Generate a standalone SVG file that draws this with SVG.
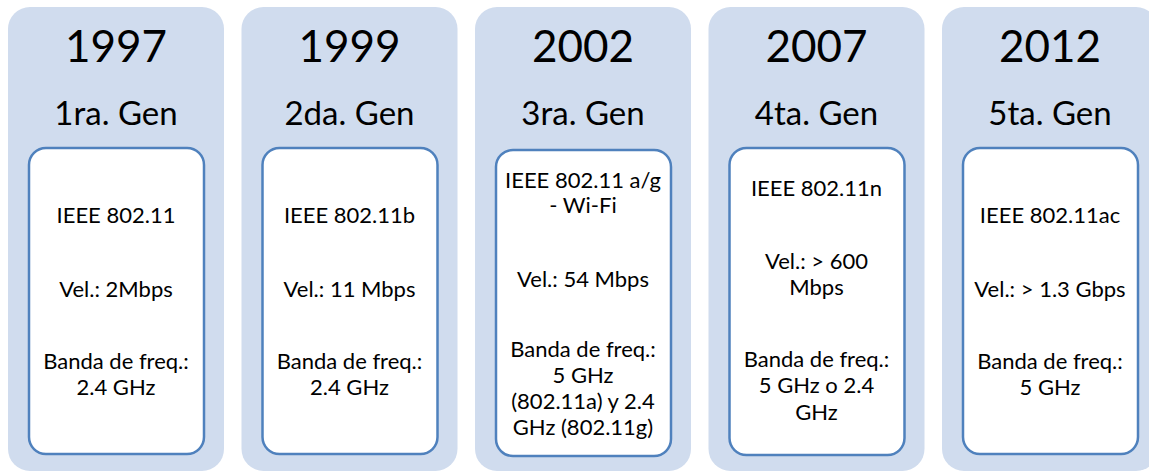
<svg xmlns="http://www.w3.org/2000/svg" width="1149" height="472" viewBox="0 0 1149 472">
  <style>
    .panel { fill: #D0DCEE; }
    .card { fill: #FFFFFF; stroke: #4F81BD; stroke-width: 2.5; }
    .year { font-family: Lato, "Open Sans", sans-serif; font-size: 44px; fill: #000; text-anchor: middle; }
    .gen { font-family: Lato, "Open Sans", sans-serif; font-size: 33px; fill: #000; text-anchor: middle; }
    .info { font-family: Lato, "Open Sans", sans-serif; font-size: 22px; fill: #000; text-anchor: middle; }
  </style>
  <rect width="1149" height="472" fill="#FFFFFF"/>

  <g id="gen1">
    <rect class="panel" x="8" y="7" width="216" height="464" rx="22"/>
    <text class="year" x="116" y="62">1997</text>
    <text class="gen" x="116" y="125">1ra. Gen</text>
    <rect class="card" x="29" y="148" width="175" height="306" rx="17"/>
    <text class="info" x="116" y="223">IEEE 802.11</text>
    <text class="info" x="116" y="297">Vel.: 2Mbps</text>
    <text class="info" x="116" y="369">Banda de freq.:</text>
    <text class="info" x="116" y="395">2.4 GHz</text>
  </g>

  <g id="gen2">
    <rect class="panel" x="241.5" y="7" width="216" height="464" rx="22"/>
    <text class="year" x="349.5" y="62">1999</text>
    <text class="gen" x="349.5" y="125">2da. Gen</text>
    <rect class="card" x="262.5" y="148" width="175" height="306" rx="17"/>
    <text class="info" x="349.5" y="223">IEEE 802.11b</text>
    <text class="info" x="349.5" y="297">Vel.: 11 Mbps</text>
    <text class="info" x="349.5" y="369">Banda de freq.:</text>
    <text class="info" x="349.5" y="395">2.4 GHz</text>
  </g>

  <g id="gen3">
    <rect class="panel" x="475" y="7" width="216" height="464" rx="22"/>
    <text class="year" x="583" y="62">2002</text>
    <text class="gen" x="583" y="125">3ra. Gen</text>
    <rect class="card" x="496" y="150" width="175" height="306" rx="17"/>
    <text class="info" x="583" y="188">IEEE 802.11 a/g</text>
    <text class="info" x="583" y="213">- Wi-Fi</text>
    <text class="info" x="583" y="287">Vel.: 54 Mbps</text>
    <text class="info" x="583" y="357">Banda de freq.:</text>
    <text class="info" x="583" y="383">5 GHz</text>
    <text class="info" x="583" y="409">(802.11a) y 2.4</text>
    <text class="info" x="583" y="435">GHz (802.11g)</text>
  </g>

  <g id="gen4">
    <rect class="panel" x="708.5" y="7" width="216" height="464" rx="22"/>
    <text class="year" x="816.5" y="62">2007</text>
    <text class="gen" x="816.5" y="125">4ta. Gen</text>
    <rect class="card" x="729.5" y="148" width="175" height="307" rx="17"/>
    <text class="info" x="816.5" y="196">IEEE 802.11n</text>
    <text class="info" x="816.5" y="269">Vel.: &gt; 600</text>
    <text class="info" x="816.5" y="295">Mbps</text>
    <text class="info" x="816.5" y="367">Banda de freq.:</text>
    <text class="info" x="816.5" y="393">5 GHz o 2.4</text>
    <text class="info" x="816.5" y="420">GHz</text>
  </g>

  <g id="gen5">
    <rect class="panel" x="942" y="7" width="216" height="464" rx="22"/>
    <text class="year" x="1050" y="62">2012</text>
    <text class="gen" x="1050" y="125">5ta. Gen</text>
    <rect class="card" x="963" y="148" width="175" height="306" rx="17"/>
    <text class="info" x="1050" y="223">IEEE 802.11ac</text>
    <text class="info" x="1050" y="297">Vel.: &gt; 1.3 Gbps</text>
    <text class="info" x="1050" y="369">Banda de freq.:</text>
    <text class="info" x="1050" y="395">5 GHz</text>
  </g>

  <g id="connectors"></g>
</svg>
